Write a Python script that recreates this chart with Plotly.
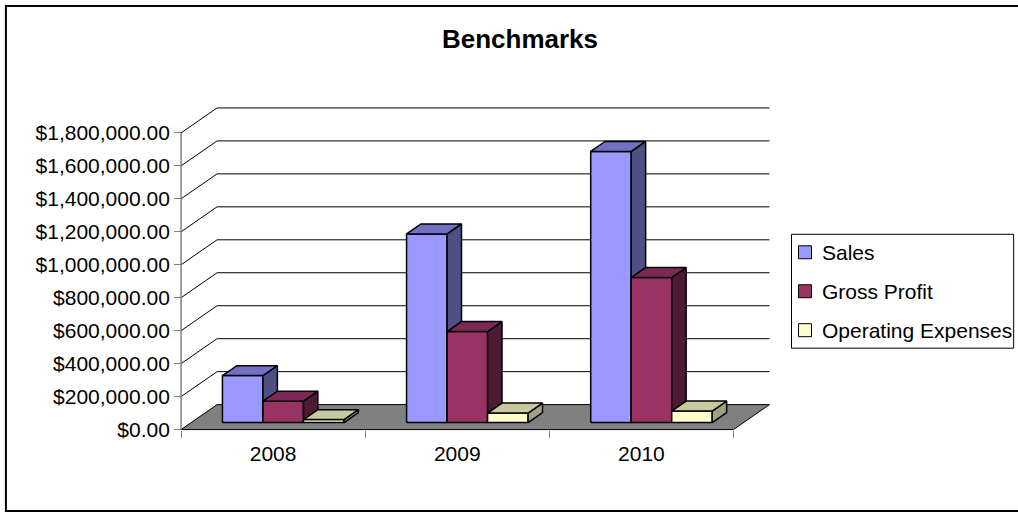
import plotly.graph_objects as go

# ---------------- data ----------------
years = ["2008", "2009", "2010"]
series_names = ["Sales", "Gross Profit", "Operating Expenses"]
sales = [285000, 1145000, 1645000]
gross_profit = [130000, 552000, 880000]
operating_expenses = [18000, 58000, 70000]
y_tick_values = [0, 200000, 400000, 600000, 800000, 1000000, 1200000, 1400000, 1600000, 1800000]

series_values = [sales, gross_profit, operating_expenses]

# ---------------- styling / geometry ----------------
FONT = "Liberation Sans, Arial, sans-serif"
face_colors = [
    # front, top, side
    ("#9999FF", "#7070C4", "#4F4F84"),
    ("#993366", "#7A2952", "#4F1A35"),
    ("#FFFFCC", "#C9C9A1", "#A1A17F"),
]

W, H = 1018, 512
CAT_PX = 184.0            # pixels per category
X_FRONT0 = 181.0          # pixel x of front-left corner (category -0.5)
Y_ZERO = 429.5            # pixel y of value 0 at the front plane
V_PX = 297.0 / 1800000    # pixels per value unit
DEPTH_X_PX, DEPTH_Y_PX = 36.0, 25.0

dxc = DEPTH_X_PX / CAT_PX     # depth offset in category units
dyv = DEPTH_Y_PX / V_PX       # depth offset in value units

BAR_W = 0.22
GAP = (1 - 3 * BAR_W) / 2
D0, D1 = 0.28, 0.68

xr = [-0.56, 2.5 + dxc + 0.03]
yr = [-45000, 1800000 + dyv + 30000]
ml = X_FRONT0 + (xr[0] + 0.5) * CAT_PX
pw = (xr[1] - xr[0]) * CAT_PX
mr = W - ml - pw
mt = Y_ZERO - yr[1] * V_PX
ph = (yr[1] - yr[0]) * V_PX
mb = H - mt - ph


def px_x(p):
    return (p - ml) / pw


def px_y(p):
    return (H - mb - p) / ph


def P(x, v, d):
    return x + d * dxc, v + d * dyv


fig = go.Figure()

# floor
fl = [P(-0.5, 0, 0), P(2.5, 0, 0), P(2.5, 0, 1), P(-0.5, 0, 1), P(-0.5, 0, 0)]
fig.add_trace(go.Scatter(x=[p[0] for p in fl], y=[p[1] for p in fl], mode="lines",
                         fill="toself", fillcolor="#808080",
                         line=dict(color="black", width=1), hoverinfo="skip", showlegend=False))

# gridlines on back wall and left wall
gx, gy = [], []
for v in y_tick_values:
    if v == 0:
        continue
    a, b_ = P(-0.5, v, 0), P(-0.5, v, 1)
    c = P(2.5, v, 1)
    gx += [a[0], b_[0], c[0], None]
    gy += [a[1], b_[1], c[1], None]
fig.add_trace(go.Scatter(x=gx, y=gy, mode="lines", line=dict(color="black", width=1),
                         hoverinfo="skip", showlegend=False))

# value axis line (front-left edge)
fig.add_trace(go.Scatter(x=[-0.5, -0.5], y=[0, y_tick_values[-1]], mode="lines",
                         line=dict(color="#808080", width=1.5), hoverinfo="skip", showlegend=False))

# bars
for j, vals in enumerate(series_values):
    fronts = ([], [])
    tops = ([], [])
    sides = ([], [])
    for i, v in enumerate(vals):
        x0 = i - 0.5 + GAP + j * BAR_W
        x1 = x0 + BAR_W
        f = [P(x0, 0, D0), P(x1, 0, D0), P(x1, v, D0), P(x0, v, D0), P(x0, 0, D0)]
        t = [P(x0, v, D0), P(x1, v, D0), P(x1, v, D1), P(x0, v, D1), P(x0, v, D0)]
        s = [P(x1, 0, D0), P(x1, 0, D1), P(x1, v, D1), P(x1, v, D0), P(x1, 0, D0)]
        for poly, acc in ((f, fronts), (t, tops), (s, sides)):
            acc[0].extend([p[0] for p in poly] + [None])
            acc[1].extend([p[1] for p in poly] + [None])
    for acc, col in ((fronts, face_colors[j][0]), (sides, face_colors[j][2]), (tops, face_colors[j][1])):
        fig.add_trace(go.Scatter(x=acc[0], y=acc[1], mode="lines", fill="toself",
                                 fillcolor=col, line=dict(color="black", width=1.5),
                                 name=series_names[j], hoverinfo="skip", showlegend=False))

shapes = []
annotations = []

# chart border
shapes.append(dict(type="rect", xref="paper", yref="paper",
                   x0=px_x(6), x1=px_x(1030), y0=px_y(511), y1=px_y(5.5),
                   line=dict(color="black", width=2), fillcolor="rgba(0,0,0,0)", layer="above"))

# legend box
LX0, LX1, LY0, LY1 = 791, 1013, 234, 348
shapes.append(dict(type="rect", xref="paper", yref="paper",
                   x0=px_x(LX0), x1=px_x(LX1), y0=px_y(LY1), y1=px_y(LY0),
                   line=dict(color="black", width=1), fillcolor="white", layer="above"))
for j, name in enumerate(series_names):
    cy = 252 + j * 39
    shapes.append(dict(type="rect", xref="paper", yref="paper",
                       x0=px_x(798), x1=px_x(811), y0=px_y(cy + 6.5), y1=px_y(cy - 6.5),
                       line=dict(color="black", width=1), fillcolor=face_colors[j][0], layer="above"))
    annotations.append(dict(text=name, xref="paper", yref="paper", x=px_x(819), y=px_y(cy),
                            xanchor="left", yanchor="middle", showarrow=False,
                            font=dict(family=FONT, size=21, color="black")))

fig.update_layout(
    width=W, height=H,
    margin=dict(l=ml, r=mr, t=mt, b=mb, pad=0),
    paper_bgcolor="white", plot_bgcolor="white",
    showlegend=False,
    title=dict(text="<b>Benchmarks</b>", x=520 / W, y=1 - 39 / H, xref="container", yref="container",
               xanchor="center", yanchor="middle", font=dict(family=FONT, size=26, color="black")),
    shapes=shapes,
    annotations=annotations,
    xaxis=dict(range=xr, showgrid=False, zeroline=False, showline=False,
               anchor="free", position=(H - mb - Y_ZERO) / ph,
               tickmode="array", tickvals=[0, 1, 2], ticktext=years, ticks="",
               ticklabelstandoff=9,
               tickfont=dict(family=FONT, size=21, color="black"),
               minor=dict(tickmode="array", tickvals=[-0.5, 0.5, 1.5, 2.5], ticks="outside",
                          ticklen=7, tickcolor="#808080", tickwidth=1, showgrid=False)),
    yaxis=dict(range=yr, showgrid=False, zeroline=False, showline=False,
               anchor="free", position=(X_FRONT0 - ml) / pw,
               tickmode="array", tickvals=y_tick_values, tickformat="$,.2f",
               ticks="outside", ticklen=7, tickcolor="#808080", tickwidth=1,
               tickfont=dict(family=FONT, size=21, color="black")),
)

fig.write_html("out.html")
